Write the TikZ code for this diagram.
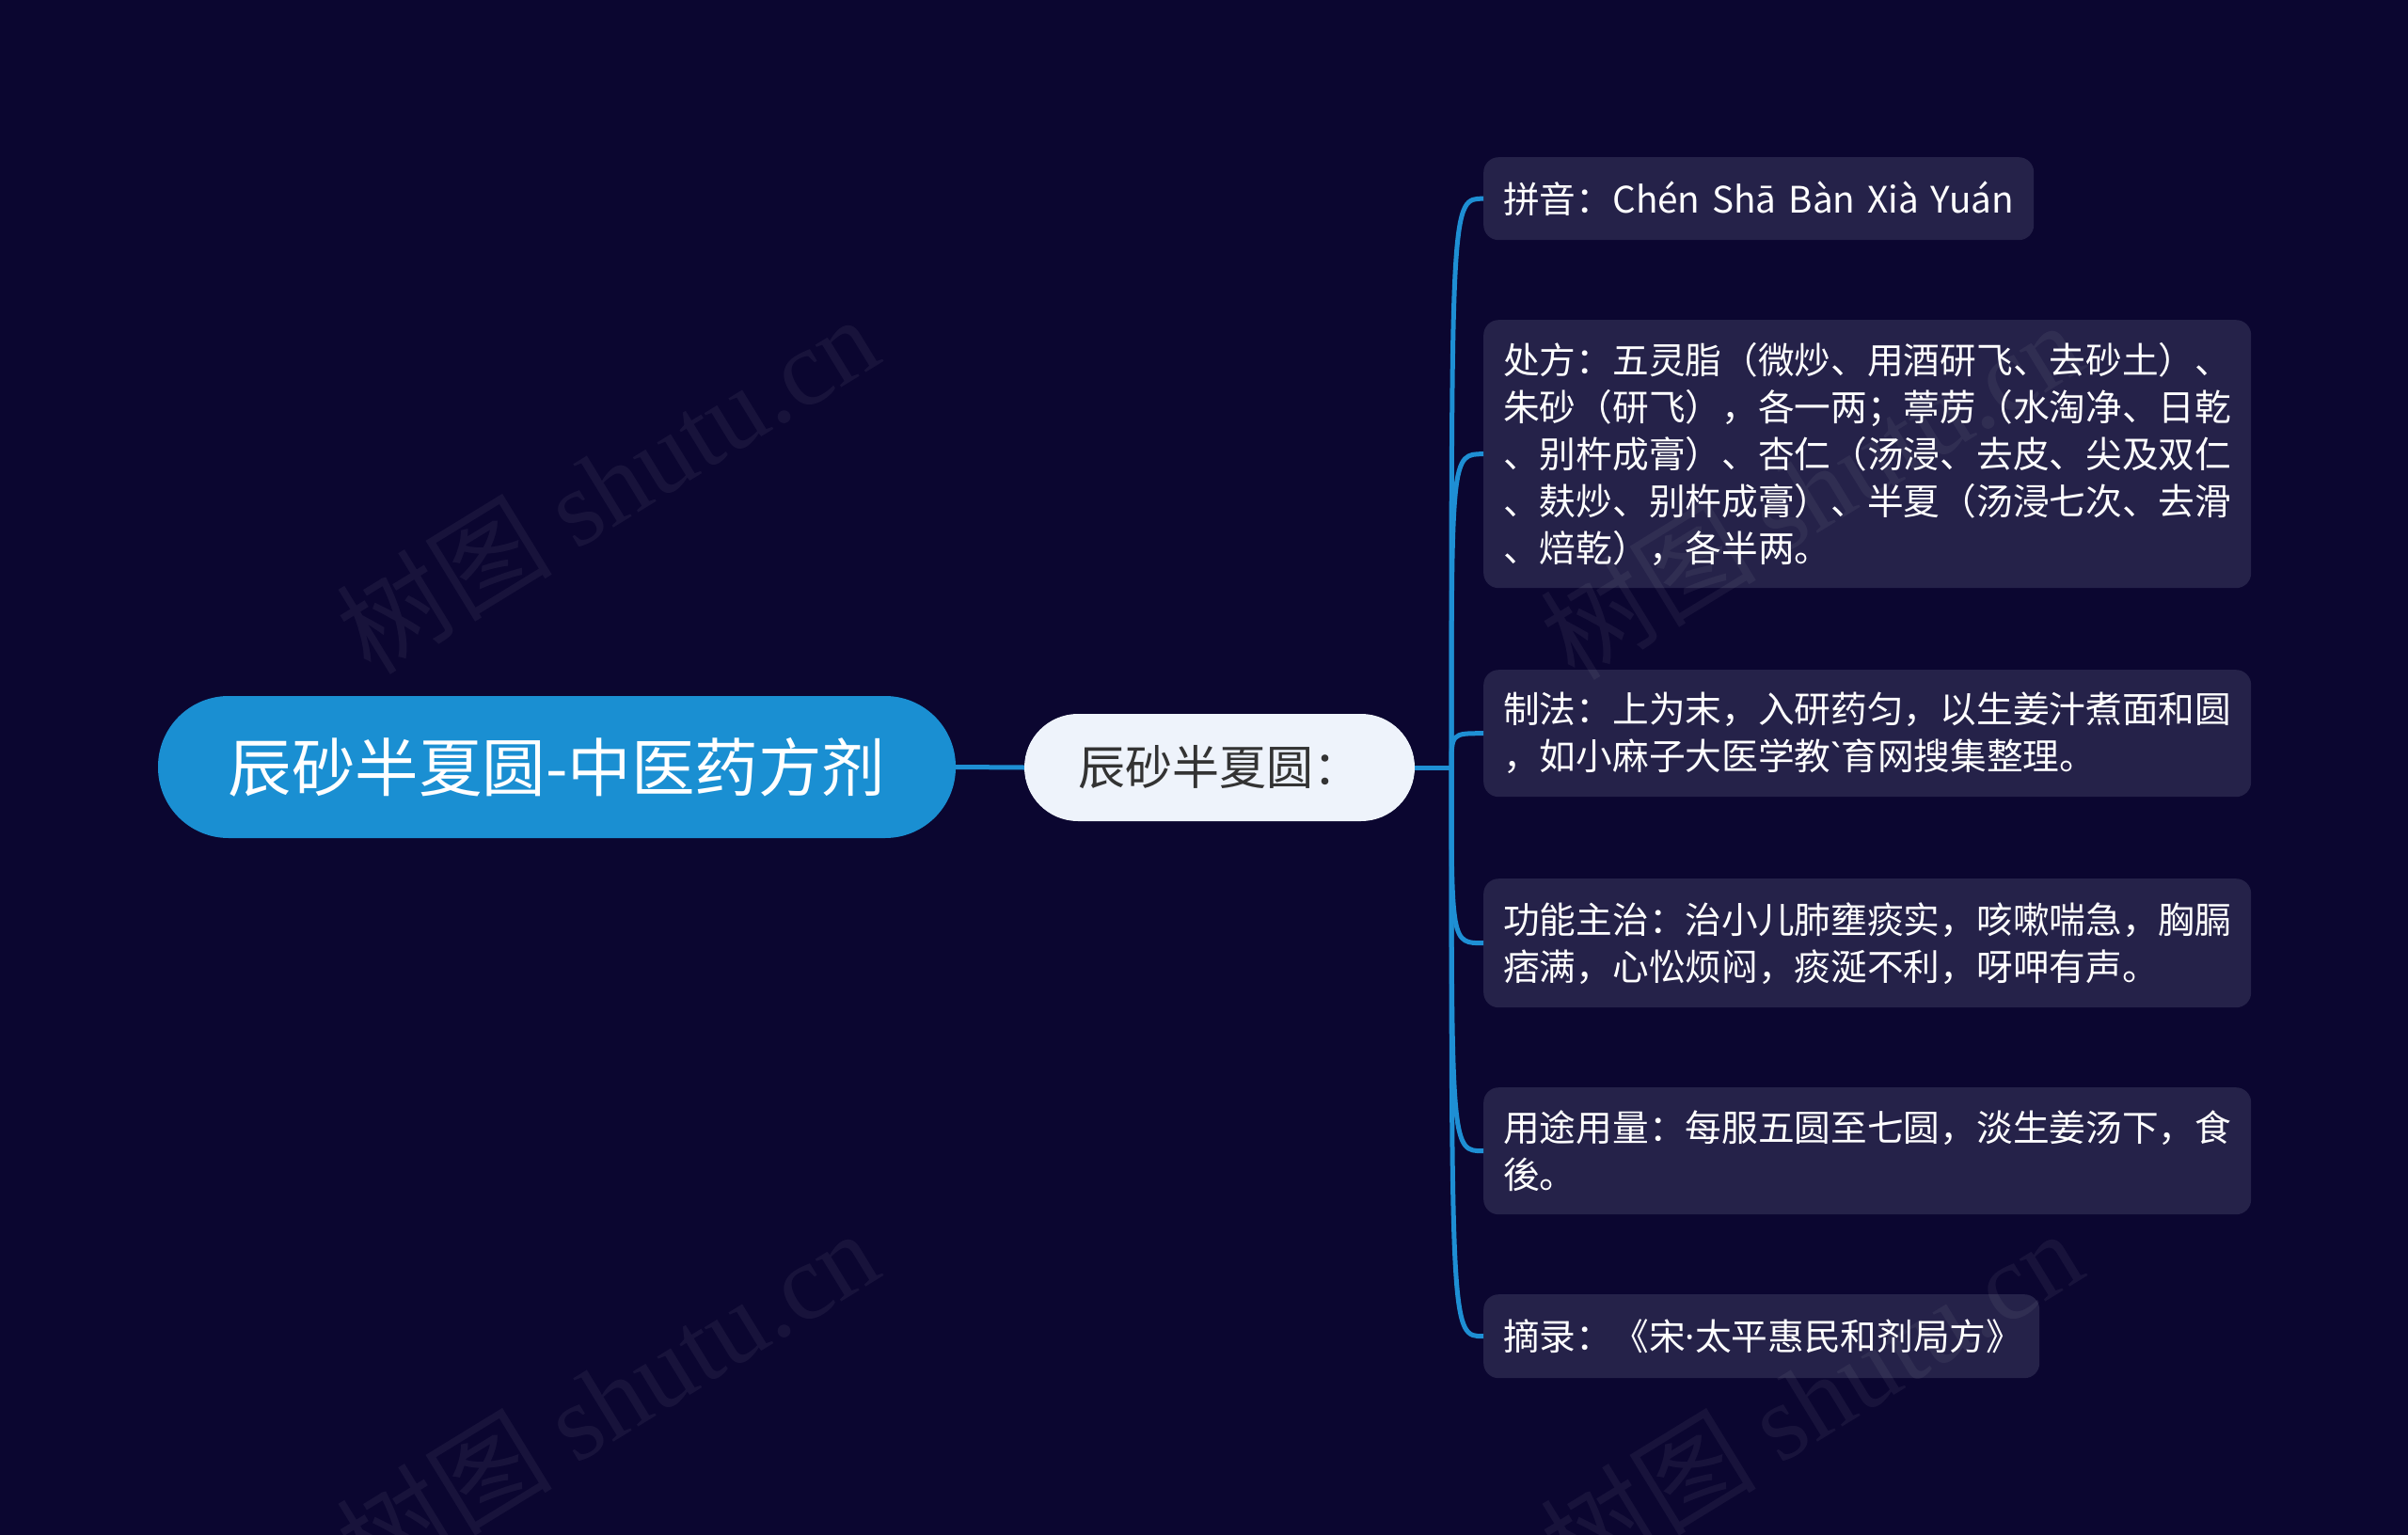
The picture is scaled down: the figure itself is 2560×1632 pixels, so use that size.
\documentclass[tikz,border=0pt]{standalone}
\usepackage{fontspec}
\setmainfont{Noto Sans CJK SC}
\newfontfamily\wmserif{Liberation Serif}
\newfontfamily\rawlatin{Noto Sans}
\definecolor{bgc}{HTML}{0B0630}
\definecolor{rootc}{HTML}{1A8FD2}
\definecolor{linec}{HTML}{1E8FD4}
\definecolor{childc}{HTML}{EEF3FB}
\definecolor{leafc}{HTML}{252249}
\definecolor{darktext}{HTML}{333333}
\tikzset{
  rootbox/.style={fill=rootc, rounded corners=75pt, minimum width=848pt, minimum height=151pt,
    inner sep=0pt, text=white, font=\fontsize{67.5}{72}\selectfont},
  childbox/.style={fill=childc, rounded corners=57pt, minimum width=415pt, minimum height=114pt,
    inner sep=0pt, text=darktext, font=\fontsize{50}{56}\selectfont},
  leafbox/.style={fill=leafc, rounded corners=16pt, anchor=north west, inner xsep=21pt, inner ysep=0pt,
    align=left, text=white, font=\fontsize{38.7}{50}\selectfont},
  conn/.style={draw=linec, line width=5pt},
  wm/.style={text=white, opacity=0.055, rotate=31.5, inner sep=0pt}
}
\begin{document}
\begin{tikzpicture}[x=1pt,y=-1pt]
\fill[bgc] (0,0) rectangle (2560,1632);
\useasboundingbox (0,0) rectangle (2560,1632);

\node[rootbox] (root) at (592,815.5) {辰砂半夏圆-中医药方剂};
\node[childbox] (child) at (1296.5,816) {辰砂半夏圆：};
\coordinate (J) at (1543,816);

\node[leafbox, minimum height=88pt, text width=543pt] (l1) at (1577,167) {拼音：Chén Shā Bàn Xià Yuán};
\node[leafbox, minimum height=285pt, text width=774pt] (l2) at (1577,340) {处方：五灵脂（微炒、用酒研飞、去砂土）、\\朱砂（研飞），各一两；葶苈（水淘净、日乾\\、别杵成膏）、杏仁（汤浸、去皮、尖及双仁\\、麸炒、别杵成膏）、半夏（汤浸七次、去滑\\、焙乾），各半两。};
\node[leafbox, minimum height=135pt, text width=774pt] (l3) at (1577,712) {制法：上为末，入研药匀，以生姜汁煮面和圆\\，如小麻子大医学教{\rawlatin ˋ}育网搜集整理。};
\node[leafbox, minimum height=137pt, text width=774pt] (l4) at (1577,934) {功能主治：治小儿肺壅痰实，咳嗽喘急，胸膈\\痞满，心忪烦闷，痰涎不利，呀呷有声。};
\node[leafbox, minimum height=135pt, text width=774pt] (l5) at (1577,1156) {用途用量：每服五圆至七圆，淡生姜汤下，食\\後。};
\node[leafbox, minimum height=89pt, text width=549pt] (l6) at (1577,1376) {摘录：《宋{\rawlatin ·}太平惠民和剂局方》};

\draw[conn] (root.east) -- (child.west);
\draw[conn] (child.east) -- (J);
\foreach \n in {l1,l2,l3,l4,l5,l6}{
  \draw[conn] (J) .. controls (J |- \n.west) .. (\n.west);
}

\node[wm] (wm1) at (645,514) {\fontsize{115}{120}\selectfont 树图 {\wmserif shutu.cn}};
\node[wm] (wm2) at (645,1486) {\fontsize{115}{120}\selectfont 树图 {\wmserif shutu.cn}};
\node[wm] (wm3) at (1925,520) {\fontsize{115}{120}\selectfont 树图 {\wmserif shutu.cn}};
\node[wm] (wm4) at (1925,1486) {\fontsize{115}{120}\selectfont 树图 {\wmserif shutu.cn}};
\end{tikzpicture}
\end{document}
